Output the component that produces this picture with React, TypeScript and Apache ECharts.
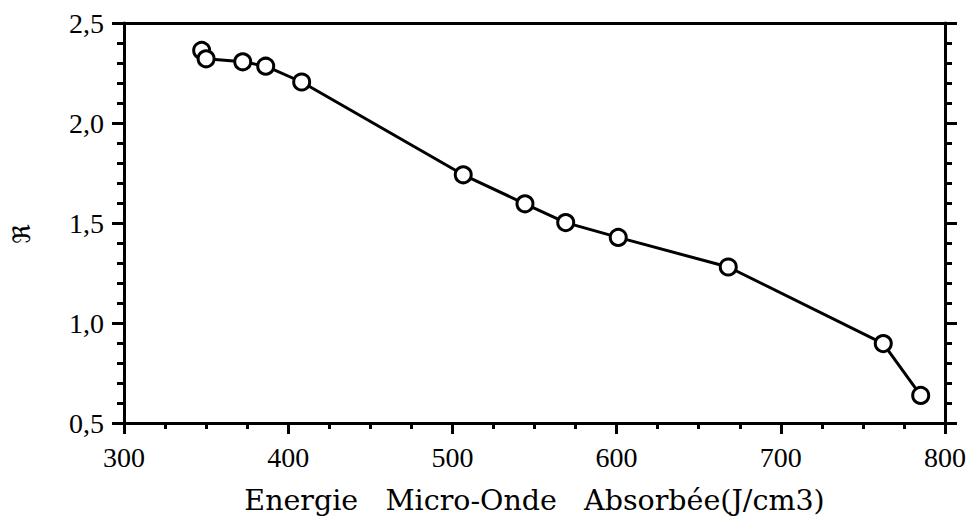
import React, { useEffect, useRef } from "react";
import * as echarts from "echarts";

const energy = [347.3, 350.0, 372.3, 386.3, 408.2, 506.6, 544.2, 569.0, 601.0, 668.0, 762.4, 785.2];
const ratio = [2.363, 2.321, 2.306, 2.284, 2.205, 1.741, 1.596, 1.502, 1.428, 1.28, 0.897, 0.638];
const xTicks = [300, 400, 500, 600, 700, 800];
const yTicks = [0.5, 1.0, 1.5, 2.0, 2.5];

const FONT = "Liberation Serif, Times New Roman, serif";
const NAME_FONT = "DejaVu Serif, Liberation Serif, serif";

export default function App() {
  const ref = useRef<HTMLDivElement>(null);
  useEffect(() => {
    if (!ref.current) return;
    const chart = echarts.init(ref.current, undefined, { renderer: "svg" });
    const axisLine = { show: true, lineStyle: { color: "#000", width: 3 } };
    const fmtY = (v: number) => v.toFixed(1).replace(".", ",");
    chart.setOption({
      animation: false,
      backgroundColor: "#fff",
      grid: { left: 124, right: 26, top: 23, bottom: 92, containLabel: false },
      graphic: [
        {
          type: "text",
          x: 22,
          y: 234,
          rotation: Math.PI / 2,
          style: {
            text: "ℜ",
            fill: "#000",
            font: "24px DejaVu Serif, DejaVu Sans, serif",
            align: "center",
            verticalAlign: "middle",
          },
        },
      ],
      xAxis: [
        {
          type: "value",
          position: "bottom",
          min: xTicks[0],
          max: xTicks[xTicks.length - 1],
          interval: 100,
          axisLine,
          axisTick: { show: true, inside: false, length: 11, lineStyle: { color: "#000", width: 3 } },
          minorTick: { show: true, splitNumber: 4, length: 6, lineStyle: { color: "#000", width: 3 } },
          splitLine: { show: false },
          axisLabel: { color: "#000", fontFamily: FONT, fontSize: 28, margin: 20 },
          name: "Energie   Micro-Onde   Absorbée(J/cm3)",
          nameLocation: "middle",
          nameGap: 63,
          nameTextStyle: { color: "#000", fontFamily: NAME_FONT, fontSize: 28.5 },
        },
        {
          type: "value",
          position: "top",
          min: xTicks[0],
          max: xTicks[xTicks.length - 1],
          interval: 100,
          axisLine,
          axisTick: { show: false },
          axisLabel: { show: false },
          splitLine: { show: false },
        },
      ],
      yAxis: [
        {
          type: "value",
          position: "left",
          min: yTicks[0],
          max: yTicks[yTicks.length - 1],
          interval: 0.5,
          axisLine,
          axisTick: { show: true, inside: false, length: 12, lineStyle: { color: "#000", width: 3 } },
          minorTick: { show: true, splitNumber: 5, length: 7, lineStyle: { color: "#000", width: 3 } },
          splitLine: { show: false },
          axisLabel: { color: "#000", fontFamily: FONT, fontSize: 28, margin: 20, formatter: fmtY },
        },
        {
          type: "value",
          position: "right",
          min: yTicks[0],
          max: yTicks[yTicks.length - 1],
          interval: 0.5,
          axisLine,
          axisTick: { show: true, inside: false, length: 12, lineStyle: { color: "#000", width: 3 } },
          minorTick: { show: true, splitNumber: 5, length: 7, lineStyle: { color: "#000", width: 3 } },
          splitLine: { show: false },
          axisLabel: { show: false },
        },
      ],
      series: [
        {
          type: "line",
          xAxisIndex: 0,
          yAxisIndex: 0,
          data: energy.map((x, i) => [x, ratio[i]]),
          symbol: "circle",
          symbolSize: 16,
          showAllSymbol: true,
          lineStyle: { color: "#000", width: 3 },
          itemStyle: { color: "#fff", borderColor: "#000", borderWidth: 3 },
          z: 3,
        },
      ],
    });
    return () => chart.dispose();
  }, []);
  return (
    <div
      ref={ref}
      style={{ position: "fixed", left: 0, top: 0, width: 971, height: 520, background: "#fff" }}
    />
  );
}
